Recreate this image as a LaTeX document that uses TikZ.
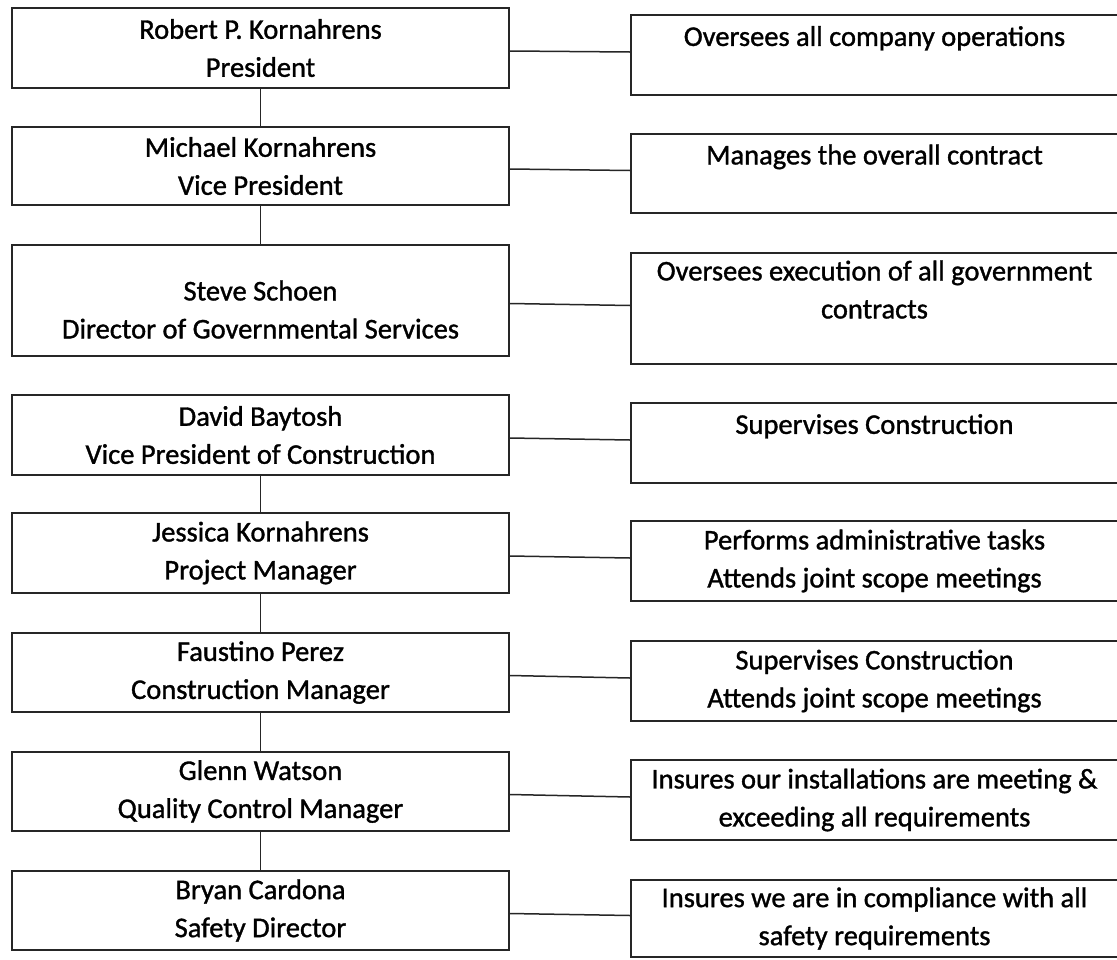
\documentclass[tikz,border=0pt]{standalone}
\usepackage{fontspec}
\setmainfont{Carlito}[BoldFont=Carlito,BoldFeatures={FakeBold=1.2}]
\begin{document}
\begin{tikzpicture}[x=1pt,y=-1pt,
  box/.style={draw=black!85,line width=1.7pt,align=center,inner sep=0pt,
    font=\fontsize{28.5}{38}\selectfont\bfseries},
  link/.style={draw=black!85,line width=1.5pt}]
\useasboundingbox[fill=white] (0,0) rectangle (1117,959);
% left column: x 12..509 ; right column: x 631..1117
\def\Lx{260.5}\def\Lw{497}
\def\Rx{874.5}\def\Rw{487}
\newcommand{\lbox}[5]{% name, top, bottom, text
  \node[box,minimum width=\Lw pt,minimum height={#3-#2}] (#1) at (\Lx,{(#2+#3)/2}) {#4};}
\newcommand{\rbox}[5]{%
  \node[box,minimum width=\Rw pt,minimum height={#3-#2}] (#1) at (\Rx,{(#2+#3)/2}) {#4};}
\lbox{L1}{8}{88}{Robert P. Kornahrens\\President}{}
\rbox{R1}{15}{95}{Oversees all company operations\\\mbox{}}{}
\lbox{L2}{127}{205}{Michael Kornahrens\\Vice President}{}
\rbox{R2}{134}{213}{Manages the overall contract\\\mbox{}}{}
\lbox{L3}{245}{356}{\mbox{}\\Steve Schoen\\Director of Governmental Services}{}
\rbox{R3}{253}{364}{Oversees execution of all government\\contracts\\\mbox{}}{}
\lbox{L4}{395}{475}{David Baytosh\\Vice President of Construction}{}
\rbox{R4}{403}{483}{Supervises Construction\\\mbox{}}{}
\lbox{L5}{513}{593}{Jessica Kornahrens\\Project Manager}{}
\rbox{R5}{521}{601}{Performs administrative tasks\\Attends joint scope meetings}{}
\lbox{L6}{633}{712}{Faustino Perez\\Construction Manager}{}
\rbox{R6}{641}{721}{Supervises Construction\\Attends joint scope meetings}{}
\lbox{L7}{752}{831}{Glenn Watson\\Quality Control Manager}{}
\rbox{R7}{760}{840}{Insures our installations are meeting \&\\exceeding all requirements}{}
\lbox{L8}{871}{950}{Bryan Cardona\\Safety Director}{}
\rbox{R8}{880}{957}{Insures we are in compliance with all\\safety requirements}{}
% horizontal links
\foreach \i in {1,...,8} {\draw[link] ([yshift=-3pt]L\i.east) -- ([yshift=3pt]R\i.west);}
% vertical links
\draw[link] (L1.south) -- (L2.north);
\draw[link] (L2.south) -- (L3.north);
\draw[link] (L4.south) -- (L5.north);
\draw[link] (L5.south) -- (L6.north);
\draw[link] (L6.south) -- (L7.north);
\draw[link] (L7.south) -- (L8.north);
\end{tikzpicture}
\end{document}
